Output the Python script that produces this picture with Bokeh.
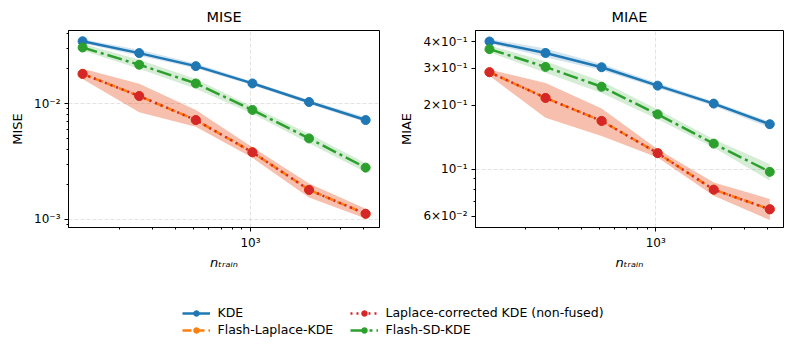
from bokeh.plotting import figure
from bokeh.models import (Range1d, FixedTicker, Legend, LegendItem, ColumnDataSource)
from bokeh.layouts import column, row
from bokeh.embed import file_html
from bokeh.resources import INLINE

# ---------------- data ----------------
n_train = [128, 256, 512, 1024, 2048, 4096]

kde_mise = [0.0344, 0.0272, 0.0210, 0.0149, 0.0103, 0.0072]
kde_mise_lo = [0.0331, 0.0258, 0.0201, 0.0144, 0.0099, 0.0069]
kde_mise_hi = [0.0358, 0.0290, 0.0221, 0.0155, 0.0107, 0.0076]

flash_laplace_mise = [0.0180, 0.0116, 0.0072, 0.0038, 0.0018, 0.00112]
flash_laplace_mise_lo = [0.0163, 0.0084, 0.0063, 0.0034, 0.00155, 0.00102]
flash_laplace_mise_hi = [0.0199, 0.0148, 0.0088, 0.0042, 0.00204, 0.00124]

laplace_mise = [0.0180, 0.0116, 0.0072, 0.0038, 0.0018, 0.00112]
laplace_mise_lo = [0.0163, 0.0084, 0.0063, 0.0034, 0.00155, 0.00102]
laplace_mise_hi = [0.0199, 0.0148, 0.0088, 0.0042, 0.00204, 0.00124]

sd_mise = [0.0304, 0.0216, 0.0149, 0.0088, 0.0050, 0.0028]
sd_mise_lo = [0.0286, 0.0199, 0.0134, 0.00815, 0.00455, 0.00256]
sd_mise_hi = [0.0327, 0.0238, 0.0163, 0.0094, 0.00548, 0.00305]

kde_miae = [0.401, 0.354, 0.303, 0.248, 0.204, 0.163]
kde_miae_lo = [0.392, 0.338, 0.293, 0.242, 0.199, 0.157]
kde_miae_hi = [0.412, 0.372, 0.314, 0.255, 0.209, 0.168]

flash_laplace_miae = [0.287, 0.217, 0.169, 0.119, 0.080, 0.0646]
flash_laplace_miae_lo = [0.276, 0.175, 0.1434, 0.1134, 0.0749, 0.0575]
flash_laplace_miae_hi = [0.295, 0.2555, 0.1936, 0.1242, 0.0865, 0.0722]

laplace_miae = [0.287, 0.217, 0.169, 0.119, 0.080, 0.0646]
laplace_miae_lo = [0.276, 0.175, 0.1434, 0.1134, 0.0749, 0.0575]
laplace_miae_hi = [0.295, 0.2555, 0.1936, 0.1242, 0.0865, 0.0722]

sd_miae = [0.369, 0.304, 0.245, 0.1815, 0.132, 0.0971]
sd_miae_lo = [0.357, 0.285, 0.229, 0.172, 0.1264, 0.0881]
sd_miae_hi = [0.384, 0.323, 0.260, 0.1915, 0.1384, 0.1056]

series_names = ["KDE", "Flash-Laplace-KDE", "Laplace-corrected KDE (non-fused)", "Flash-SD-KDE"]
colors = ["#1f77b4", "#ff7f0e", "#d62728", "#2ca02c"]
dashes = ["solid", "9 4", "2 4", "15 4 3 4"]

x_ticks = [1000]
x_labels = {1000: "10³"}
x_minor = [200, 300, 400, 500, 600, 700, 800, 900, 2000, 3000, 4000]

mise_ticks = [0.001, 0.01]
mise_labels = {0.001: "10⁻³", 0.01: "10⁻²"}
mise_minor = [0.0009, 0.002, 0.003, 0.004, 0.005, 0.006, 0.007, 0.008, 0.009, 0.02, 0.03, 0.04]

miae_ticks = [0.06, 0.1, 0.2, 0.3, 0.4]
miae_labels = {0.06: "6×10⁻²", 0.1: "10⁻¹", 0.2: "2×10⁻¹", 0.3: "3×10⁻¹", 0.4: "4×10⁻¹"}
miae_minor = [0.07, 0.08, 0.09]

FONT = "DejaVu Sans"
H = 275


def make_panel(title, ylabel, ys, los, his, yrange, yticks, ylabels, yminor, ygrid,
               width, bl, br):
    p = figure(width=width, height=H, x_axis_type="log", y_axis_type="log",
               x_range=Range1d(107.7, 4853), y_range=Range1d(*yrange),
               output_backend="svg", toolbar_location=None,
               min_border_left=bl, min_border_right=br, min_border_top=30,
               min_border_bottom=H - 227)
    p.title.text = title
    p.title.align = "center"
    p.title.text_font = FONT
    p.title.text_font_size = "14.5px"
    p.title.text_font_style = "normal"
    p.title.text_color = "black"
    p.title.standoff = 12
    p.outline_line_color = "black"
    p.outline_line_alpha = 1
    p.outline_line_width = 1
    for ax in (p.xaxis[0], p.yaxis[0]):
        ax.major_tick_in = 0
        ax.major_tick_out = 4
        ax.minor_tick_in = 0
        ax.minor_tick_out = 2
        ax.major_label_text_font = FONT
        ax.major_label_text_font_size = "12px"
        ax.major_label_text_color = "black"
        ax.axis_label_text_font = FONT
        ax.axis_label_text_font_size = "13px"
        ax.axis_label_text_font_style = "normal"
        ax.axis_label_text_color = "black"
        ax.axis_line_color = "black"
        ax.major_tick_line_color = "black"
        ax.minor_tick_line_color = "black"
    p.xaxis[0].ticker = FixedTicker(ticks=x_ticks, minor_ticks=x_minor)
    p.xaxis[0].major_label_overrides = x_labels
    p.xaxis[0].axis_label = "nₜᵣₐᵢₙ"
    p.xaxis[0].axis_label_text_font_style = "italic"
    p.xaxis[0].axis_label_standoff = 2
    p.xaxis[0].major_label_standoff = 4
    p.yaxis[0].ticker = FixedTicker(ticks=yticks, minor_ticks=yminor)
    p.yaxis[0].major_label_overrides = ylabels
    p.yaxis[0].axis_label = ylabel
    p.yaxis[0].axis_label_standoff = 6
    p.yaxis[0].major_label_standoff = 4
    p.xgrid.ticker = FixedTicker(ticks=x_ticks)
    p.ygrid.ticker = FixedTicker(ticks=ygrid)
    for g in (p.xgrid, p.ygrid):
        g.grid_line_color = "#b0b0b0"
        g.grid_line_alpha = 0.35
        g.grid_line_dash = "4 2"
    for y, lo, hi, c, d in zip(ys, los, his, colors, dashes):
        src = ColumnDataSource(dict(x=n_train, y=y, lo=lo, hi=hi))
        p.varea(x="x", y1="lo", y2="hi", source=src, fill_color=c, fill_alpha=0.2)
    for y, lo, hi, c, d in zip(ys, los, his, colors, dashes):
        src = ColumnDataSource(dict(x=n_train, y=y))
        p.line(x="x", y="y", source=src, line_color=c, line_width=2.5, line_dash=d)
        p.scatter(x="x", y="y", source=src, size=9, fill_color=c, line_color=c)
    return p


p1 = make_panel("MISE", "MISE",
                [kde_mise, flash_laplace_mise, laplace_mise, sd_mise],
                [kde_mise_lo, flash_laplace_mise_lo, laplace_mise_lo, sd_mise_lo],
                [kde_mise_hi, flash_laplace_mise_hi, laplace_mise_hi, sd_mise_hi],
                (0.000853, 0.0426), mise_ticks, mise_labels, mise_minor, mise_ticks,
                396, 68, 17)
p2 = make_panel("MIAE", "MIAE",
                [kde_miae, flash_laplace_miae, laplace_miae, sd_miae],
                [kde_miae_lo, flash_laplace_miae_lo, laplace_miae_lo, sd_miae_lo],
                [kde_miae_hi, flash_laplace_miae_hi, laplace_miae_hi, sd_miae_hi],
                (0.0530, 0.4519), miae_ticks, miae_labels, miae_minor, [0.1],
                389, 76, 2)

# legend panel
pl = figure(width=785, height=68, x_range=Range1d(0, 1), y_range=Range1d(0, 1),
            output_backend="svg", toolbar_location=None, min_border=0)
pl.axis.visible = False
pl.grid.visible = False
pl.outline_line_color = None
items = []
for name, c, d in zip(series_names, colors, dashes):
    src = ColumnDataSource(dict(x=[5, 6], y=[5, 6]))
    r1 = pl.line(x="x", y="y", source=src, line_color=c, line_width=2.5, line_dash=d)
    r2 = pl.scatter(x="x", y="y", source=src, size=9, fill_color=c, line_color=c)
    items.append(LegendItem(label=name, renderers=[r1, r2]))
leg = Legend(items=items, location="top_center", nrows=2, orientation="vertical")
leg.label_text_font = FONT
leg.label_text_font_size = "12.5px"
leg.label_text_color = "black"
leg.glyph_width = 28
leg.glyph_height = 14
leg.label_height = 14
leg.label_width = 130
leg.spacing = 2
leg.label_standoff = 8
leg.border_line_alpha = 0
leg.background_fill_alpha = 0
leg.padding = 0
leg.margin = 30
pl.add_layout(leg, "center")

layout = column(row(p1, p2), pl)
open("out.html", "w").write(file_html(layout, INLINE))
